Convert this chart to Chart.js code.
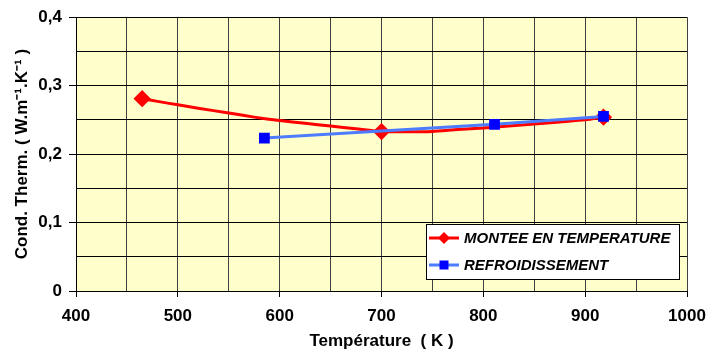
<!DOCTYPE html>
<html>
<head>
<meta charset="utf-8">
<script src="https://cdn.jsdelivr.net/npm/chart.js@4"></script>
<style>
  html, body { margin: 0; padding: 0; background: #fff; }
  #wrap { width: 722px; height: 354px; }
</style>
</head>
<body>
<div id="wrap"><canvas id="tcChart" width="722" height="354"></canvas></div>
<script>
// Montee en temperature (dense measured curve, markers at a few points)
const heatTemps = [465, 480, 500, 520, 550, 575, 600, 625, 650, 675, 700, 720, 750, 775, 800, 825, 850, 875, 900, 918];
const heatCond  = [0.281, 0.277, 0.272, 0.267, 0.260, 0.254, 0.249, 0.245, 0.241, 0.237, 0.233, 0.2325, 0.233, 0.236, 0.238, 0.241, 0.244, 0.247, 0.250, 0.254];
const heatMarkers = [465, 700, 918];

// Refroidissement
const coolTemps = [585, 811, 918];
const coolCond  = [0.2235, 0.2435, 0.255];

const seriesNames = ["MONTEE EN TEMPERATURE", "REFROIDISSEMENT"];

const xMin = 400, xMax = 1000, xLabelStep = 100;
const yMin = 0, yMax = 0.4;

function toPoints(xs, ys) {
  return xs.map((x, i) => ({ x: x, y: ys[i] }));
}

// yellow plot background
const plotBg = {
  id: "plotBg",
  beforeDraw(chart) {
    const a = chart.chartArea;
    const ctx = chart.ctx;
    ctx.save();
    ctx.fillStyle = "#FFFFCC";
    ctx.fillRect(a.left, a.top, a.right - a.left, a.bottom - a.top);
    ctx.restore();
  }
};

// legend box inside the plot, bottom right
const boxLegend = {
  id: "boxLegend",
  afterDraw(chart) {
    const a = chart.chartArea;
    const ctx = chart.ctx;
    const bx = a.right - 261, by = a.bottom - 67, bw = 253, bh = 55;
    ctx.save();
    ctx.fillStyle = "#fff";
    ctx.fillRect(bx, by, bw, bh);
    ctx.strokeStyle = "#000";
    ctx.lineWidth = 1;
    ctx.strokeRect(bx + 0.5, by + 0.5, bw, bh);
    const rows = [by + 14, by + 41];
    chart.data.datasets.forEach((ds, i) => {
      const y = rows[i];
      ctx.strokeStyle = ds.borderColor;
      ctx.lineWidth = 3;
      ctx.beginPath();
      ctx.moveTo(bx + 3, y);
      ctx.lineTo(bx + 33, y);
      ctx.stroke();
      ctx.fillStyle = ds.pointBackgroundColor;
      ctx.beginPath();
      const cx = bx + 18;
      if (ds.pointStyle === "rectRot") {
        ctx.moveTo(cx - 6, y); ctx.lineTo(cx, y - 6); ctx.lineTo(cx + 6, y); ctx.lineTo(cx, y + 6);
      } else {
        ctx.rect(cx - 4.5, y - 4.5, 9, 9);
      }
      ctx.closePath();
      ctx.fill();
      ctx.fillStyle = "#000";
      ctx.font = "italic bold 15px 'Liberation Sans', Arial, sans-serif";
      ctx.textBaseline = "middle";
      ctx.fillText(ds.label, bx + 38, y + 1);
    });
    ctx.restore();
  }
};

const ctx = document.getElementById("tcChart").getContext("2d");

new Chart(ctx, {
  type: "line",
  data: {
    datasets: [
      {
        label: seriesNames[0],
        data: toPoints(heatTemps, heatCond),
        borderColor: "#FF0000",
        backgroundColor: "#FF0000",
        pointBackgroundColor: "#FF0000",
        pointBorderColor: "#FF0000",
        pointStyle: "rectRot",
        pointRadius: heatTemps.map(t => heatMarkers.includes(t) ? 6.5 : 0),
        borderWidth: 3,
        tension: 0.2,
        order: 2
      },
      {
        label: seriesNames[1],
        data: toPoints(coolTemps, coolCond),
        borderColor: "#4D7CFF",
        backgroundColor: "#0000FF",
        pointBackgroundColor: "#0000FF",
        pointBorderColor: "#0000FF",
        pointStyle: "rect",
        pointRadius: 5.5,
        borderWidth: 3,
        tension: 0,
        order: 1
      }
    ]
  },
  options: {
    responsive: false,
    animation: false,
    layout: { padding: { top: 15, right: 35, left: 0, bottom: 0 } },
    plugins: {
      legend: { display: false },
      tooltip: { enabled: false }
    },
    elements: { point: { borderWidth: 0 } },
    scales: {
      x: {
        type: "linear",
        min: xMin,
        max: xMax,
        afterFit(scale) { scale.height = 63; },
        ticks: {
          stepSize: 50,
          autoSkip: false,
          maxRotation: 0,
          padding: 9,
          color: "#000",
          font: { family: "'Liberation Sans', Arial, sans-serif", size: 17, weight: "bold" },
          callback: v => (v % xLabelStep === 0 ? String(v) : "")
        },
        grid: {
          color: "#404040",
          lineWidth: 1,
          tickLength: 6,
          tickColor: c => (c.tick && c.tick.value % xLabelStep === 0 ? "#000" : "rgba(0,0,0,0)")
        },
        border: { color: "#000", width: 1 },
        title: {
          display: true,
          text: "Température  ( K )",
          color: "#000",
          font: { family: "'Liberation Sans', Arial, sans-serif", size: 17, weight: "bold" },
          padding: { top: 0, bottom: 2 }
        }
      },
      y: {
        min: yMin,
        max: yMax,
        afterFit(scale) { scale.width = 76; },
        ticks: {
          stepSize: 0.05,
          autoSkip: false,
          padding: 7,
          color: "#000",
          font: { family: "'Liberation Sans', Arial, sans-serif", size: 17, weight: "bold" },
          callback: v => {
            const k = Math.round(v * 100);
            if (k % 10 !== 0) return "";
            return k === 0 ? "0" : (k / 100).toFixed(1).replace(".", ",");
          }
        },
        grid: {
          color: "#000",
          lineWidth: 1,
          tickLength: 7,
          tickColor: c => (c.tick && Math.round(c.tick.value * 100) % 10 === 0 ? "#000" : "rgba(0,0,0,0)")
        },
        border: { color: "#000", width: 1 },
        title: {
          display: true,
          text: "Cond. Therm. ( W.m\u207B\u00B9.K\u207B\u00B9 )",
          color: "#000",
          font: { family: "'Liberation Sans', Arial, sans-serif", size: 17, weight: "bold" },
          padding: { top: 12, bottom: 0 }
        }
      }
    }
  },
  plugins: [plotBg, boxLegend]
});
</script>
</body>
</html>
